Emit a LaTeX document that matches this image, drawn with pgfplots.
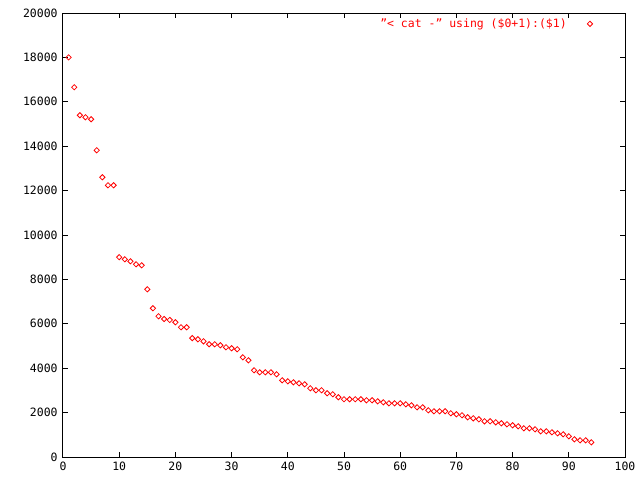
\documentclass[border=0pt]{standalone}
\usepackage{fontspec}
\setmainfont{DejaVu Sans Mono}
\usepackage{pgfplots}
\pgfplotsset{compat=1.18}
\begin{document}
\fontsize{8.6}{10}\selectfont
\begin{tikzpicture}
\useasboundingbox (0,0) rectangle (480pt,360pt);
\fill[white] (0,0) rectangle (480pt,360pt);
\begin{axis}[
  at={(47.25pt,17.25pt)}, anchor=south west,
  scale only axis, width=421.5pt, height=333pt,
  xmin=0, xmax=100, ymin=0, ymax=20000,
  xtick={0,10,...,100}, ytick={0,2000,...,20000},
  scaled y ticks=false,
  /pgf/number format/assume math mode=true,
  /pgf/number format/1000 sep={},
  tick label style={font=\fontsize{8.6}{10}\selectfont},
  major tick length=3.75pt,
  tick style={black, line width=0.75pt},
  axis line style={black, line width=0.75pt},
  tick align=inside,
  xtick pos=both, ytick pos=both,
  xticklabel style={yshift=-1pt},
  yticklabel style={xshift=-1pt},
  legend plot pos=right,
  legend style={draw=none, fill=none, at={(0.95,1.0)}, anchor=north east, font=\fontsize{8.6}{10}\selectfont\color{red}},
  legend cell align=right,
]
\addplot[only marks, red, mark=square, mark size=1.4pt, mark options={rotate=45, line width=0.6pt}] table {
1 18000
2 16655
3 15393
4 15303
5 15213
6 13817
7 12600
8 12240
9 12240
10 9000
11 8906
12 8816
13 8681
14 8636
15 7555
16 6699
17 6339
18 6217
19 6172
20 6068
21 5843
22 5843
23 5355
24 5302
25 5212
26 5077
27 5077
28 5032
29 4942
30 4897
31 4852
32 4491
33 4356
34 3906
35 3816
36 3816
37 3816
38 3726
39 3455
40 3410
41 3365
42 3320
43 3275
44 3095
45 3005
46 3005
47 2870
48 2825
49 2690
50 2600
51 2600
52 2600
53 2600
54 2554
55 2554
56 2509
57 2464
58 2419
59 2419
60 2419
61 2374
62 2329
63 2239
64 2239
65 2104
66 2059
67 2059
68 2059
69 1969
70 1924
71 1879
72 1788
73 1743
74 1698
75 1608
76 1608
77 1563
78 1518
79 1473
80 1428
81 1383
82 1293
83 1293
84 1248
85 1158
86 1158
87 1113
88 1068
89 1023
90 932
91 797
92 752
93 752
94 662
};
\addlegendentry{\char34< cat -\char34{} using (\$0+1):(\$1)\hspace*{13.5pt}}
\end{axis}
\end{tikzpicture}
\end{document}
